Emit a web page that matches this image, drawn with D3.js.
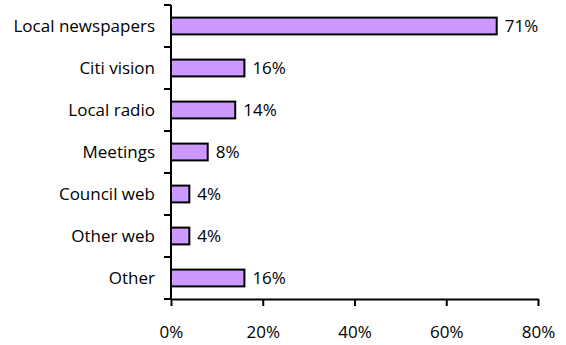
<!DOCTYPE html>
<html>
<head>
<meta charset="utf-8">
<script src="https://cdn.jsdelivr.net/npm/d3@7"></script>
<style>
  html, body { margin: 0; padding: 0; background: #fff; }
  svg { display: block; }
  text { font-family: "Open Sans", "Noto Sans", sans-serif; fill: #000; }
</style>
</head>
<body>
<svg id="chart" width="566" height="345"></svg>
<script>
// Information sources, share of respondents (%)
const categories = ["Local newspapers", "Citi vision", "Local radio", "Meetings", "Council web", "Other web", "Other"];
const values = [71, 16, 14, 8, 4, 4, 16];
const xTicks = [0, 20, 40, 60, 80];

const fontFamily = "'Open Sans', 'Noto Sans', sans-serif";
const fontSize = 17;

const svg = d3.select("#chart");
const plotLeft = 171, plotRight = 538, plotTop = 5, plotBottom = 299;

const x = d3.scaleLinear().domain([0, 80]).range([plotLeft, plotRight]);
const y = d3.scaleBand().domain(categories).range([plotTop, plotBottom]).paddingInner(0.6).paddingOuter(0.3);

// bars
svg.append("g").selectAll("rect")
  .data(values)
  .join("rect")
  .attr("x", x(0))
  .attr("y", (d, i) => y(categories[i]))
  .attr("width", d => x(d) - x(0))
  .attr("height", y.bandwidth())
  .attr("fill", "#CC99FF")
  .attr("stroke", "#000")
  .attr("stroke-width", 2);

// value labels
svg.append("g").selectAll("text")
  .data(values)
  .join("text")
  .attr("x", d => x(d) + 8)
  .attr("y", (d, i) => y(categories[i]) + y.bandwidth() / 2)
  .attr("dy", "0.36em")
  .attr("font-size", fontSize)
  .text(d => d + "%");

// y axis: line with ticks at category boundaries
const step = (plotBottom - plotTop) / categories.length;
const yAxis = svg.append("g");
yAxis.append("line")
  .attr("x1", plotLeft).attr("x2", plotLeft)
  .attr("y1", plotTop).attr("y2", plotBottom)
  .attr("stroke", "#000").attr("stroke-width", 2);
yAxis.selectAll(".tick")
  .data(d3.range(categories.length + 1))
  .join("line")
  .attr("x1", plotLeft - 7).attr("x2", plotLeft)
  .attr("y1", i => plotTop + i * step).attr("y2", i => plotTop + i * step)
  .attr("stroke", "#000").attr("stroke-width", 2);
yAxis.selectAll("text")
  .data(categories)
  .join("text")
  .attr("x", plotLeft - 16)
  .attr("y", d => y(d) + y.bandwidth() / 2)
  .attr("dy", "0.36em")
  .attr("text-anchor", "end")
  .attr("font-size", fontSize)
  .text(d => d);

// x axis
const xAxis = svg.append("g")
  .attr("transform", `translate(0,${plotBottom})`)
  .call(d3.axisBottom(x).tickValues(xTicks).tickSize(7).tickSizeOuter(0).tickPadding(20).tickFormat(d => d + "%"));
xAxis.select(".domain").attr("stroke", "#000").attr("stroke-width", 2);
xAxis.selectAll(".tick line").attr("stroke", "#000").attr("stroke-width", 2);
xAxis.selectAll(".tick text").attr("font-size", fontSize).attr("font-family", fontFamily).attr("fill", "#000");
</script>
</body>
</html>
